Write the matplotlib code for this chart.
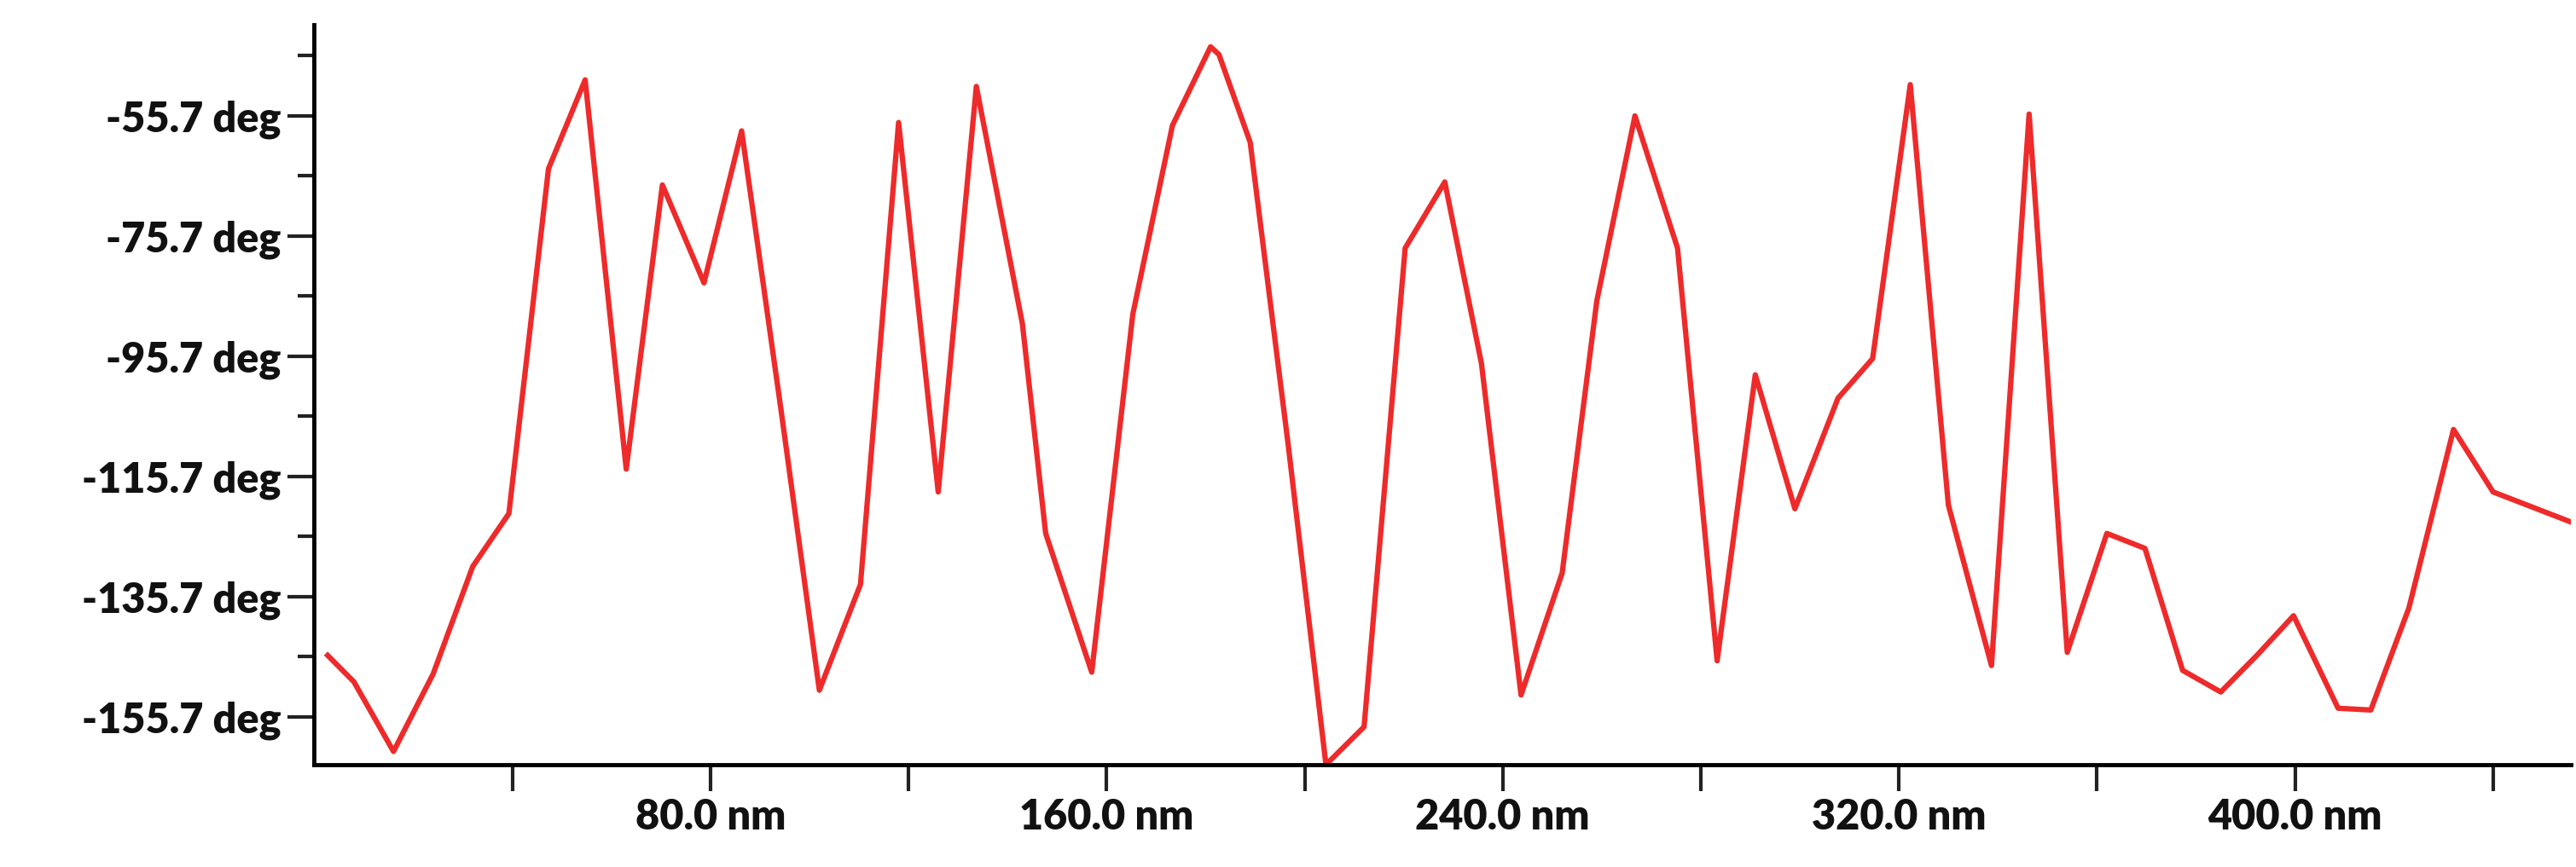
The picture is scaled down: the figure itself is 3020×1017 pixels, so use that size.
import matplotlib
matplotlib.use("Agg")
import matplotlib.pyplot as plt
from matplotlib.ticker import FixedLocator

x_nm = [2.7,8.0,16.0,24.0,32.0,39.3,47.3,54.7,63.0,70.3,78.7,86.3,94.3,102.0,110.3,118.0,126.0,133.7,143.0,147.7,
        157.0,165.3,173.3,181.0,182.7,189.0,196.7,204.3,212.0,220.3,228.3,235.7,243.7,252.0,259.0,266.7,275.3,283.3,
        291.0,299.0,307.7,314.7,322.3,330.0,338.7,346.3,354.0,362.0,369.7,377.3,385.0,392.3,399.7,408.7,415.3,423.0,
        432.0,440.0,455.7]
phase_deg = [-145.5,-149.9,-161.5,-148.6,-130.7,-121.9,-64.5,-49.7,-114.5,-67.2,-83.5,-58.2,-104.9,-151.3,-133.7,
             -56.8,-118.3,-50.8,-90.3,-125.2,-148.3,-88.7,-57.3,-44.2,-45.5,-60.1,-110.6,-163.7,-157.4,-77.7,-66.7,
             -96.9,-152.1,-131.8,-86.5,-55.7,-77.7,-146.4,-98.8,-121.1,-102.7,-96.1,-50.5,-120.5,-147.2,-55.4,-145.0,
             -125.2,-127.7,-148.0,-151.6,-145.5,-138.9,-154.3,-154.6,-137.6,-107.9,-118.3,-123.3]
y_ticks = [-155.7,-135.7,-115.7,-95.7,-75.7,-55.7]
x_ticks = [80,160,240,320,400]

plt.rcParams['font.family'] = ['Lato', 'DejaVu Sans']
fig = plt.figure(figsize=(30.2, 10.17), dpi=100)
ax = fig.add_axes([0.122, 0.118, 0.876, 0.853])
ax.plot(x_nm, phase_deg, color='#ee2a2a', lw=4.5)
ax.set_xlim(0, 455.7)
ax.set_ylim(-163.7, -40.6)
for s in ['top', 'right']:
    ax.spines[s].set_visible(False)
for s in ['left', 'bottom']:
    ax.spines[s].set_linewidth(3.5)
ax.set_yticks(y_ticks)
ax.set_yticklabels([f"{v:.1f} deg" for v in y_ticks])
ax.yaxis.set_minor_locator(FixedLocator([v + 10 for v in y_ticks]))
ax.set_xticks(x_ticks)
ax.set_xticklabels([f"{v:.1f} nm" for v in x_ticks])
ax.xaxis.set_minor_locator(FixedLocator([40,120,200,280,360,440]))
ax.tick_params(which='both', width=3, color='#222222', direction='out')
ax.tick_params(which='major', length=22, labelsize=35, pad=6)
ax.tick_params(which='minor', length=14)
ax.tick_params(axis='x', which='both', length=22)
for lab in ax.get_xticklabels() + ax.get_yticklabels():
    lab.set_fontweight('heavy')
    lab.set_color('#111111')
fig.savefig('out.png', dpi=100)
